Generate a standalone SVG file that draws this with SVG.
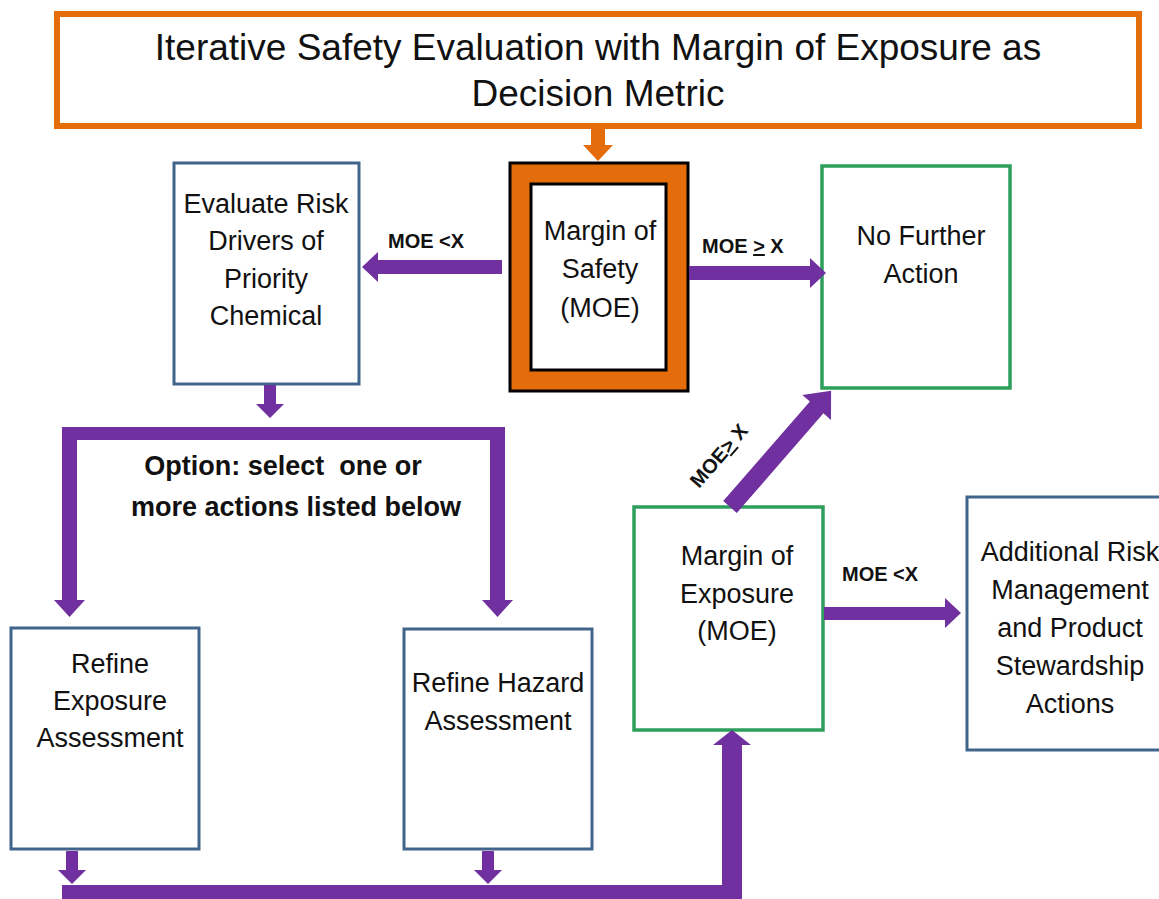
<svg xmlns="http://www.w3.org/2000/svg" width="1159" height="899" viewBox="0 0 1159 899">
<style>
.t{font-family:"Liberation Sans",Arial,sans-serif;fill:#111;text-anchor:middle}
.n{font-size:27px}
.lb{font-family:"Liberation Sans",Arial,sans-serif;font-weight:bold;font-size:20px;fill:#111}
.blue{fill:#fff;stroke:#41648A;stroke-width:3}
.green{fill:#fff;stroke:#2E9E5C;stroke-width:3.5}
.arr{fill:#7030A0}
</style>
<rect width="1159" height="899" fill="#fff"/>
<g id="title">
<rect x="57" y="14" width="1082" height="112" fill="#fff" stroke="#E46C0A" stroke-width="6"/>
<text class="t" x="598" y="60" font-size="37">Iterative Safety Evaluation with Margin of Exposure as</text>
<text class="t" x="598" y="106" font-size="37">Decision Metric</text>
</g>
<g id="margin-of-safety">
<rect x="510" y="163" width="178" height="228" fill="#E46C0A" stroke="#000" stroke-width="3"/>
<rect x="531" y="184" width="135" height="186" fill="#fff" stroke="#000" stroke-width="3"/>
<text class="t n" x="600" y="240">Margin of</text>
<text class="t n" x="600" y="278">Safety</text>
<text class="t n" x="600" y="317">(MOE)</text>
</g>
<g id="evaluate-risk">
<rect class="blue" x="174" y="163" width="185" height="221"/>
<text class="t n" x="266" y="213">Evaluate Risk</text>
<text class="t n" x="266" y="250">Drivers of</text>
<text class="t n" x="266" y="288">Priority</text>
<text class="t n" x="266" y="325">Chemical</text>
</g>
<g id="no-further-action">
<rect class="green" x="822" y="166" width="188" height="222"/>
<text class="t n" x="921" y="245">No Further</text>
<text class="t n" x="921" y="283">Action</text>
</g>
<g id="option-label">
<text class="t" x="283" y="475" font-size="27" font-weight="bold" style="white-space:pre" xml:space="preserve">Option: select  one or</text>
<text class="t" x="296" y="516" font-size="27" font-weight="bold">more actions listed below</text>
</g>
<g id="refine-exposure">
<rect class="blue" x="11" y="628" width="188" height="221"/>
<text class="t n" x="110" y="673">Refine</text>
<text class="t n" x="110" y="710">Exposure</text>
<text class="t n" x="110" y="747">Assessment</text>
</g>
<g id="refine-hazard">
<rect class="blue" x="404" y="629" width="188" height="220"/>
<text class="t n" x="498" y="692">Refine Hazard</text>
<text class="t n" x="498" y="730">Assessment</text>
</g>
<g id="margin-of-exposure">
<rect class="green" x="634" y="507" width="189" height="223"/>
<text class="t n" x="737" y="565">Margin of</text>
<text class="t n" x="737" y="603">Exposure</text>
<text class="t n" x="737" y="640">(MOE)</text>
</g>
<g id="additional-risk">
<rect class="blue" x="967" y="497" width="210" height="253"/>
<text class="t n" x="1070" y="561">Additional Risk</text>
<text class="t n" x="1070" y="599">Management</text>
<text class="t n" x="1070" y="637">and Product</text>
<text class="t n" x="1070" y="675">Stewardship</text>
<text class="t n" x="1070" y="713">Actions</text>
</g>
<g id="connectors">
<polygon fill="#E46C0A" points="591,127 605,127 605,145 613,145 598,161 583,145 591,145"/>
<polygon class="arr" points="502,260 378,260 378,252 362,267 378,282 378,274 502,274"/>
<text class="lb" x="388" y="248">MOE &lt;X</text>
<polygon class="arr" points="689,266 810,266 810,258 826,273 810,288 810,280 689,280"/>
<text class="lb" x="702" y="253">MOE <tspan text-decoration="underline">&gt;</tspan> X</text>
<polygon class="arr" points="264,385 276,385 276,404 284,404 270,418 256,404 264,404"/>
<path class="arr" d="M62,427 H505 V600 H513 L497.5,617 L482,600 H490 V440 H77 V600 H85 L69.5,617 L54,600 H62 Z"/>
<polygon class="arr" points="66,851 78,851 78,870 86,870 72,884 58,870 66,870"/>
<polygon class="arr" points="482,851 494,851 494,870 502,870 488,884 474,870 482,870"/>
<path class="arr" d="M62,885 H722 V745 H713 L732,730 L751,745 H742 V899 H62 Z"/>
<polygon class="arr" transform="translate(730,507) rotate(-48.96)" points="0,-9 132,-9 132,-19 154,0 132,19 132,9 0,9"/>
<text class="lb" transform="translate(699,489) rotate(-49)">MOE<tspan text-decoration="underline">&gt;</tspan> X</text>
<polygon class="arr" points="824,607 945,607 945,598 961,613 945,628 945,620 824,620"/>
<text class="lb" x="842" y="581">MOE &lt;X</text>
</g>
</svg>
